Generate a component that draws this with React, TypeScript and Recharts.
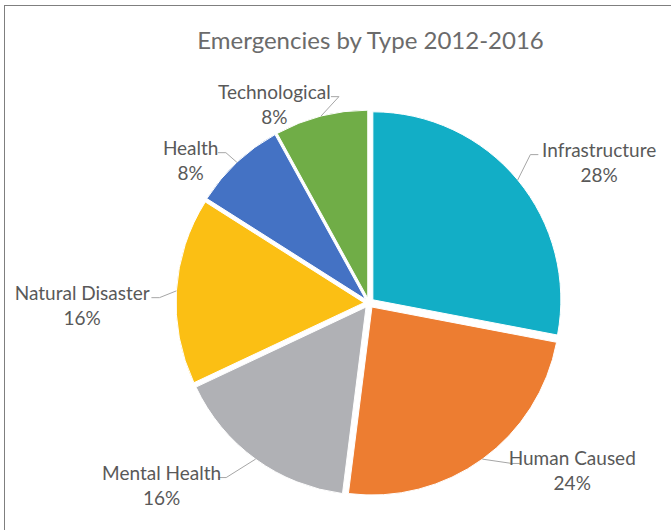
import { PieChart, Pie, Cell, Sector } from 'recharts';

const categories = ['Infrastructure', 'Human Caused', 'Mental Health', 'Natural Disaster', 'Health', 'Technological'];
const shares = [28, 24, 16, 16, 8, 8];
const colors = ['#12AEC6', '#ED7D31', '#B0B1B5', '#FBBF14', '#4472C4', '#70AD47'];

const data = categories.map((name, i) => ({ name, value: shares[i] }));

const RAD = Math.PI / 180;
const EXPLODE = 5;
const FONT = 'Lato, "Open Sans", sans-serif';

function ExplodedSlice(props: any) {
  const { cx, cy, midAngle } = props;
  const dx = EXPLODE * Math.cos(-midAngle * RAD);
  const dy = EXPLODE * Math.sin(-midAngle * RAD);
  return <Sector {...props} cx={cx + dx} cy={cy + dy} stroke="#fff" strokeWidth={1} />;
}

// outside-end labels with an elbowed leader, roughly like Excel's best fit
function renderLabel(props: any) {
  const { cx, cy, midAngle, outerRadius, percent, name } = props;
  const cos = Math.cos(-midAngle * RAD);
  const sin = Math.sin(-midAngle * RAD);
  const ox = cx + EXPLODE * cos;
  const oy = cy + EXPLODE * sin;
  const sx = ox + outerRadius * cos;
  const sy = oy + outerRadius * sin;
  const px = cx + (outerRadius + 24) * cos;
  const py = cy + (outerRadius + 24) * sin;
  const halfW = name.length * 4.2;
  const side = cos >= 0 ? 1 : -1;
  const tx = px + side * (halfW * Math.min(1, Math.abs(cos) * 2.5) + 8 + 25 * Math.max(0, sin));
  const ty = py + 4 - 12 * cos;
  const edgeX = tx - side * (halfW + 2);
  const edgeY = ty - 8;
  const elbowX = edgeX - side * 8;
  return (
    <g>
      <polyline
        points={`${sx},${sy} ${elbowX},${edgeY} ${edgeX},${edgeY}`}
        fill="none"
        stroke="#A6A6A6"
        strokeWidth={1}
      />
      <text x={tx} y={ty - 6} textAnchor="middle" fill="#595959" fontSize={19} fontFamily={FONT}>
        {name}
      </text>
      <text x={tx} y={ty + 19} textAnchor="middle" fill="#595959" fontSize={19} fontFamily={FONT}>
        {`${Math.round(percent * 100)}%`}
      </text>
    </g>
  );
}

export default function App() {
  return (
    <div style={{ position: 'absolute', left: 0, top: 0, width: 671, height: 530, overflow: 'hidden', background: '#fff' }}>
      <div
        style={{
          position: 'absolute',
          left: 4,
          top: 5,
          width: 720,
          height: 600,
          border: '1px solid #7F7F7F',
        }}
      />
      <div
        style={{
          position: 'absolute',
          left: 0,
          top: 25,
          width: 741,
          textAlign: 'center',
          fontFamily: FONT,
          fontSize: 24,
          color: '#6B6B6B',
        }}
      >
        Emergencies by Type 2012-2016
      </div>
      <div style={{ position: 'absolute', left: 0, top: 0 }}>
        <PieChart width={671} height={530} margin={{ top: 0, right: 0, bottom: 0, left: 0 }}>
          <Pie
            data={data}
            dataKey="value"
            nameKey="name"
            cx={369}
            cy={303}
            outerRadius={188}
            startAngle={90}
            endAngle={-270}
            stroke="#fff"
            label={renderLabel}
            labelLine={false}
            shape={ExplodedSlice}
            inactiveShape={ExplodedSlice}
            activeShape={ExplodedSlice}
            isAnimationActive={false}
          >
            {data.map((d, i) => (
              <Cell key={d.name} fill={colors[i]} />
            ))}
          </Pie>
        </PieChart>
      </div>
    </div>
  );
}
